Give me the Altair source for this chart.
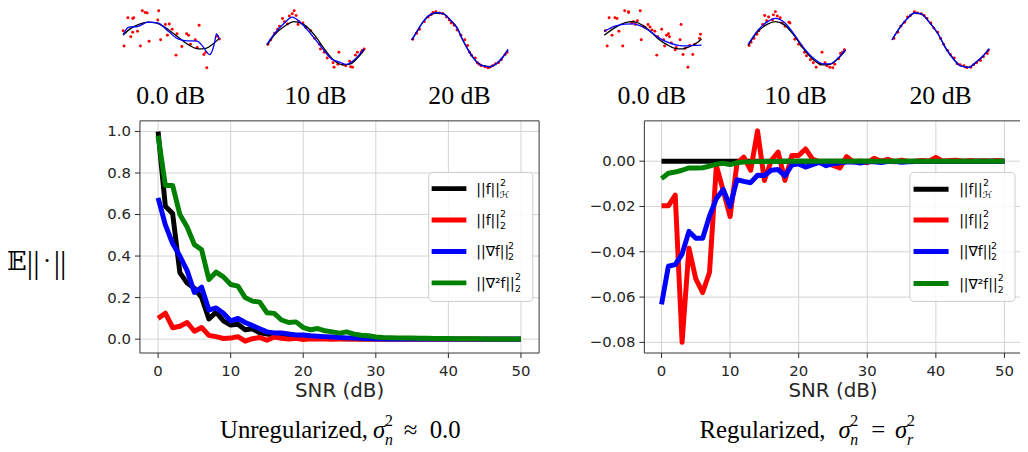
import altair as alt
import pandas as pd

# ------------------------------------------------------------------ data
snr_db = list(range(51))
snr_ticks = [0, 10, 20, 30, 40, 50]
snr_tick_labels = ["0", "10", "20", "30", "40", "50"]
unreg_ticks = [0.0, 0.2, 0.4, 0.6, 0.8, 1.0]
unreg_tick_labels = ["0.0", "0.2", "0.4", "0.6", "0.8", "1.0"]
reg_ticks = [-0.08, -0.06, -0.04, -0.02, 0.0]
reg_tick_labels = ["\u22120.08", "\u22120.06", "\u22120.04", "\u22120.02", "0.00"]
series_colors = ["#000000", "#ff0000", "#0000ff", "#008000"]
snr_levels = ["0.0 dB", "10 dB", "20 dB"]

# Unregularized, sigma_n^2 ~ 0
unreg_hnorm = [1.00, 0.64, 0.605, 0.32, 0.27, 0.245, 0.20, 0.097, 0.13, 0.088,
               0.068, 0.072, 0.045, 0.05, 0.03, 0.025, 0.02, 0.015, 0.012, 0.010,
               0.008, 0.006, 0.005, 0.004, 0.003, 0.003, 0.002, 0.002, 0.001, 0.001,
               0.001, 0.001, 0.0, 0.0, 0.0, 0.0, 0.0, 0.0, 0.0, 0.0,
               0.0, 0.0, 0.0, 0.0, 0.0, 0.0, 0.0, 0.0, 0.0, 0.0, 0.0]
unreg_l2 = [0.100, 0.125, 0.055, 0.062, 0.080, 0.038, 0.056, 0.018, 0.012, 0.003,
            0.005, 0.012, -0.010, 0.002, 0.008, -0.005, 0.010, 0.004, 0.000, 0.004,
            -0.002, 0.002, 0.000, 0.001, -0.001, 0.000, 0.001, 0.000, 0.000, 0.001,
            0.000, 0.000, 0.000, 0.000, 0.000, 0.000, 0.000, 0.000, 0.000, 0.000,
            0.000, 0.000, 0.000, 0.000, 0.000, 0.000, 0.000, 0.000, 0.000, 0.000, 0.000]
unreg_grad = [0.68, 0.55, 0.46, 0.40, 0.33, 0.225, 0.25, 0.14, 0.15, 0.125,
              0.088, 0.10, 0.08, 0.065, 0.05, 0.035, 0.03, 0.03, 0.025, 0.02,
              0.02, 0.016, 0.014, 0.012, 0.010, 0.008, 0.006, 0.005, 0.004, 0.003,
              0.002, 0.002, 0.001, 0.001, 0.001, 0.001, 0.0, 0.0, 0.0, 0.0,
              0.0, 0.0, 0.0, 0.0, 0.0, 0.0, 0.0, 0.0, 0.0, 0.0, 0.0]
unreg_lap = [0.98, 0.74, 0.74, 0.60, 0.54, 0.455, 0.43, 0.287, 0.323, 0.30,
             0.263, 0.255, 0.20, 0.183, 0.178, 0.127, 0.124, 0.092, 0.08, 0.083,
             0.056, 0.045, 0.051, 0.04, 0.035, 0.029, 0.035, 0.024, 0.019, 0.016,
             0.010, 0.008, 0.007, 0.006, 0.005, 0.005, 0.004, 0.004, 0.003, 0.003,
             0.003, 0.002, 0.002, 0.002, 0.002, 0.001, 0.001, 0.001, 0.001, 0.001, 0.001]

# Regularized, sigma_n^2 = sigma_r^2
reg_hnorm = [0.0, 0.0, 0.0, 0.0, 0.0, 0.0, 0.0, 0.0, 0.0, 0.0,
             0.0, 0.0, 0.0, 0.0, 0.0, 0.0, 0.0, 0.0, 0.0, 0.0,
             0.0, 0.0, 0.0, 0.0, 0.0, 0.0, 0.0, 0.0, 0.0, 0.0,
             0.0, 0.0, 0.0, 0.0, 0.0, 0.0, 0.0, 0.0, 0.0, 0.0,
             0.0, 0.0, 0.0, 0.0, 0.0, 0.0, 0.0, 0.0, 0.0, 0.0, 0.0]
reg_l2 = [-0.0197, -0.0197, -0.0150, -0.0800, -0.0384, -0.0520, -0.0580, -0.0490, -0.0020, -0.0130,
          -0.0245, -0.0010, 0.0018, -0.0040, 0.0134, -0.0085, 0.0003, 0.0040, -0.0085, 0.0025,
          0.0025, 0.0054, 0.0010, -0.0004, -0.0004, -0.0019, -0.0030, 0.0020, -0.0004, 0.0000,
          -0.0007, 0.0013, 0.0000, 0.0008, -0.0003, 0.0005, -0.0002, 0.0000, 0.0003, 0.0000,
          0.0017, 0.0000, 0.0003, 0.0004, 0.0000, 0.0003, 0.0000, 0.0002, 0.0000, 0.0003, 0.0000]
reg_grad = [-0.0632, -0.0464, -0.0457, -0.0410, -0.0310, -0.0340, -0.0340, -0.0242, -0.0165, -0.0125,
            -0.0200, -0.0082, -0.0089, -0.0095, -0.0062, -0.0063, -0.0040, -0.0037, -0.0065, -0.0017,
            -0.0012, -0.0026, -0.0015, -0.0005, -0.0020, -0.0012, -0.0007, -0.0004, -0.0003, -0.0008,
            -0.0002, -0.0003, -0.0006, -0.0002, -0.0001, -0.0005, -0.0003, -0.0002, -0.0001, -0.0002,
            -0.0001, -0.0002, -0.0001, -0.0001, -0.0002, -0.0001, 0.0000, -0.0001, 0.0000, -0.0001, 0.0000]
reg_lap = [-0.0077, -0.0053, -0.0048, -0.0040, -0.0030, -0.0030, -0.0029, -0.0022, -0.0013, -0.0009,
           -0.0015, -0.0007, -0.0004, -0.0003, -0.0002, -0.0001, -0.0001, -0.0001, 0.0, 0.0,
           0.0, 0.0, 0.0, 0.0, 0.0, 0.0, 0.0, 0.0, 0.0, 0.0,
           0.0, 0.0, 0.0, 0.0, 0.0, 0.0, 0.0, 0.0, 0.0, 0.0,
           0.0, 0.0, 0.0, 0.0, 0.0, 0.0, 0.0, 0.0, 0.0, 0.0, 0.0]

# ---- thumbnails: noisy samples (t, v), black curve, blue curve
u0_pts_t = [0.00, 0.05, 0.10, 0.11, 0.20, 0.23, 0.25, 0.37, 0.36, 0.44, 0.48, 0.51, 0.01, 0.08, 0.15, 0.18, 0.27,
            0.39, 0.46, 0.56, 0.61, 0.66, 0.68, 0.70, 0.75, 0.77, 0.79, 0.84, 0.86, 0.55, 0.87, 0.98, 1.00, 0.10]
u0_pts_v = [0.34, 0.82, 0.80, 0.82, 1.08, 1.02, 1.00, 1.08, 0.74, 0.57, 0.59, 0.40, -0.22, 0.12, 0.32, -0.22, -0.05,
            0.01, 0.18, 0.23, -0.24, 0.23, 0.18, -0.16, 0.01, -0.28, 0.55, -0.54, -0.45, -0.56, -1.03, 0.14, 0.04, 0.29]
u0_blk_t = [0.00, 0.08, 0.17, 0.26, 0.34, 0.43, 0.52, 0.60, 0.69, 0.78, 0.86, 0.93, 1.00]
u0_blk_v = [0.18, 0.43, 0.59, 0.66, 0.63, 0.48, 0.25, 0.03, -0.20, -0.33, -0.31, -0.16, 0.06]
u0_blu_t = [0.00, 0.06, 0.15, 0.26, 0.36, 0.47, 0.57, 0.66, 0.77, 0.82, 0.90, 0.95, 0.97, 1.00]
u0_blu_v = [0.20, 0.48, 0.50, 0.66, 0.63, 0.32, 0.04, -0.03, -0.04, -0.20, -0.54, -0.11, 0.23, 0.04]

u10_pts_t = [0.01, 0.04, 0.08, 0.11, 0.13, 0.16, 0.18, 0.23, 0.26, 0.28, 0.30, 0.33, 0.37, 0.40, 0.45, 0.49, 0.54, 0.55,
             0.59, 0.62, 0.68, 0.69, 0.73, 0.78, 0.81, 0.85, 0.86, 0.88, 0.91, 0.93, 0.97, 0.98, 1.00, 0.74, 0.32, 0.21]
u10_pts_v = [-0.16, 0.01, 0.25, 0.40, 0.51, 0.80, 0.68, 0.89, 0.97, 1.08, 0.91, 0.68, 0.63, 0.46, 0.34, 0.06, -0.16, -0.33,
             -0.45, -0.67, -0.84, -1.01, -0.90, -0.90, -0.95, -0.79, -0.99, -1.01, -0.56, -0.45, -0.45, -0.39, -0.33, -0.45, 0.57, 0.59]
u10_blk_t = [0.00, 0.075, 0.18, 0.28, 0.38, 0.49, 0.59, 0.69, 0.79, 0.86, 0.93, 1.00]
u10_blk_v = [-0.20, 0.18, 0.51, 0.68, 0.57, 0.18, -0.33, -0.76, -0.92, -0.88, -0.67, -0.36]
u10_blu_t = [0.00, 0.075, 0.18, 0.26, 0.35, 0.45, 0.55, 0.66, 0.74, 0.82, 0.88, 0.93, 1.00]
u10_blu_v = [-0.16, 0.23, 0.63, 0.85, 0.63, 0.23, -0.22, -0.69, -0.81, -0.90, -0.79, -0.62, -0.33]

u20_pts_t = [0.01, 0.05, 0.08, 0.13, 0.17, 0.20, 0.22, 0.25, 0.29, 0.32, 0.36, 0.39, 0.41, 0.44, 0.47, 0.51, 0.55,
             0.58, 0.60, 0.62, 0.66, 0.68, 0.70, 0.72, 0.76, 0.79, 0.81, 0.84, 0.87, 0.90, 0.93, 0.97, 0.99]
u20_pts_v = [0.03, 0.25, 0.40, 0.68, 0.85, 0.93, 1.02, 1.05, 1.00, 0.98, 0.85, 0.74, 0.63, 0.55, 0.37, 0.18, 0.01,
             -0.20, -0.45, -0.56, -0.67, -0.84, -0.90, -0.95, -0.99, -1.03, -1.01, -0.95, -0.88, -0.84, -0.73, -0.54, -0.45]
u20_blk_t = [0.00, 0.05, 0.12, 0.19, 0.26, 0.33, 0.40, 0.47, 0.53, 0.60, 0.67, 0.74, 0.81, 0.88, 0.95, 1.00]
u20_blk_v = [0.00, 0.29, 0.68, 0.93, 1.00, 0.97, 0.74, 0.46, 0.00, -0.45, -0.79, -0.95, -0.99, -0.88, -0.62, -0.36]
u20_blu_t = [0.00, 0.05, 0.12, 0.19, 0.26, 0.33, 0.40, 0.47, 0.53, 0.60, 0.67, 0.74, 0.81, 0.88, 0.95, 1.00]
u20_blu_v = [0.00, 0.30, 0.69, 0.94, 1.01, 0.97, 0.74, 0.45, -0.01, -0.46, -0.80, -0.96, -0.99, -0.87, -0.61, -0.35]

r0_pts_t = [0.01, 0.03, 0.05, 0.11, 0.13, 0.08, 0.15, 0.21, 0.25, 0.25, 0.30, 0.32, 0.34, 0.37, 0.38, 0.40, 0.42, 0.45,
            0.47, 0.49, 0.52, 0.54, 0.55, 0.59, 0.61, 0.62, 0.64, 0.66, 0.67, 0.69, 0.73, 0.74, 0.78, 0.79, 0.81, 0.83,
            0.86, 0.88, 0.91, 0.93, 0.98, 0.99, 0.19, 0.28]
r0_pts_v = [0.34, -0.22, 0.82, 0.82, 0.80, 0.18, 0.32, 1.08, 1.05, 1.02, 0.68, 0.57, 0.71, 1.08, 0.01, 0.51, 0.46, 0.57,
            0.48, 0.37, 0.32, -0.56, 0.12, 0.40, 0.01, -0.22, 0.18, 0.23, 0.12, -0.11, -0.36, -0.28, 0.01, 0.57, -0.54, -0.31,
            -1.01, -0.20, -0.54, -0.16, 0.06, 0.21, -0.22, 0.63]
r0_blk_t = [0.00, 0.11, 0.21, 0.28, 0.35, 0.45, 0.55, 0.64, 0.73, 0.79, 0.88, 0.95, 1.00]
r0_blk_v = [0.18, 0.46, 0.63, 0.68, 0.63, 0.40, 0.06, -0.16, -0.31, -0.33, -0.24, -0.11, 0.04]
r0_blu_t = [0.00, 0.11, 0.21, 0.30, 0.38, 0.47, 0.57, 0.67, 0.76, 0.85, 0.93, 1.00]
r0_blu_v = [0.32, 0.51, 0.59, 0.60, 0.51, 0.32, 0.06, -0.11, -0.20, -0.22, -0.20, -0.19]

r10_pts_t = [0.01, 0.03, 0.06, 0.09, 0.11, 0.15, 0.17, 0.19, 0.21, 0.25, 0.26, 0.28, 0.30, 0.33, 0.35, 0.38, 0.42, 0.43,
             0.48, 0.52, 0.55, 0.58, 0.60, 0.64, 0.67, 0.70, 0.74, 0.76, 0.79, 0.81, 0.84, 0.87, 0.89, 0.93, 0.95, 0.97, 0.99]
r10_pts_v = [-0.20, -0.08, 0.06, 0.21, 0.34, 0.57, 0.91, 0.71, 0.85, 0.74, 0.93, 1.05, 0.89, 0.82, 0.63, 0.51, 0.66, 0.63,
             0.03, -0.16, -0.22, -0.45, -0.58, -0.73, -0.84, -1.01, -0.90, -0.45, -0.84, -0.95, -1.01, -1.03, -0.90, -0.69,
             -0.50, -0.45, -0.36]
r10_blk_t = [0.00, 0.095, 0.20, 0.28, 0.37, 0.47, 0.57, 0.67, 0.77, 0.84, 0.93, 1.00]
r10_blk_v = [-0.20, 0.29, 0.59, 0.68, 0.57, 0.18, -0.33, -0.73, -0.92, -0.90, -0.67, -0.39]
r10_blu_t = [0.00, 0.095, 0.20, 0.28, 0.37, 0.47, 0.57, 0.67, 0.77, 0.84, 0.93, 1.00]
r10_blu_v = [-0.16, 0.34, 0.68, 0.80, 0.66, 0.23, -0.28, -0.67, -0.88, -0.88, -0.65, -0.36]

r20_pts_t = [0.02, 0.06, 0.09, 0.13, 0.16, 0.19, 0.23, 0.26, 0.30, 0.33, 0.36, 0.40, 0.43, 0.47, 0.50, 0.53, 0.57,
             0.60, 0.64, 0.67, 0.70, 0.74, 0.77, 0.81, 0.84, 0.87, 0.91, 0.94, 0.98, 0.99]
r20_pts_v = [0.06, 0.29, 0.51, 0.66, 0.85, 0.91, 1.05, 1.00, 0.97, 0.91, 0.80, 0.63, 0.44, 0.29, 0.06, -0.16, -0.39,
             -0.54, -0.67, -0.88, -0.92, -0.95, -1.03, -1.01, -0.92, -0.84, -0.76, -0.62, -0.50, -0.39]
r20_blk_t = [0.00, 0.07, 0.16, 0.23, 0.30, 0.38, 0.47, 0.55, 0.64, 0.70, 0.79, 0.86, 0.93, 1.00]
r20_blk_v = [0.00, 0.40, 0.80, 1.00, 0.97, 0.68, 0.25, -0.28, -0.73, -0.95, -1.01, -0.84, -0.62, -0.33]
r20_blu_t = [0.00, 0.07, 0.16, 0.23, 0.30, 0.38, 0.47, 0.55, 0.64, 0.70, 0.79, 0.86, 0.93, 1.00]
r20_blu_v = [0.00, 0.41, 0.81, 1.00, 0.97, 0.67, 0.24, -0.29, -0.74, -0.95, -1.01, -0.83, -0.61, -0.32]

# ------------------------------------------------------------------ layout / style
W, H = 1020, 444
SANS = "DejaVu Sans"
SERIF = "Liberation Serif"
AXC = "#262626"
GRID = "#d3d3d3"
SPINE = "#333333"
SNR_DOMAIN = [-2.5, 52.5]
THUMB_VDOM = [-1.12, 1.12]
THUMB_YPX = [61, 0]


def sc(domain, rng):
    return alt.Scale(domain=domain, range=rng, nice=False, zero=False)


def one_row():
    return pd.DataFrame({"k": [0]})


def txt(s, x, y, size, font=SERIF, align="left", style="normal", baseline="alphabetic", color="black"):
    return alt.Chart(pd.DataFrame({"s": [s]})).mark_text(
        align=align, baseline=baseline, font=font, fontSize=size, fontStyle=style, color=color
    ).encode(text="s:N", x=alt.value(x), y=alt.value(y))


def main_panel(series_vals, x_px, y_px, y_dom, y_ticks, y_labels):
    xs = sc(SNR_DOMAIN, x_px)
    ys = sc(y_dom, y_px)
    xdf = pd.DataFrame({"g": snr_ticks, "lab": snr_tick_labels})
    ydf = pd.DataFrame({"g": y_ticks, "lab": y_labels})
    # grid
    vgrid = alt.Chart(xdf).mark_rule(color=GRID, strokeWidth=1).encode(
        x=alt.X("g:Q", scale=xs, axis=None),
        y=alt.YDatum(y_dom[0], scale=ys, axis=None),
        y2=alt.Y2Datum(y_dom[1]))
    hgrid = alt.Chart(ydf).mark_rule(color=GRID, strokeWidth=1).encode(
        y=alt.Y("g:Q", scale=ys, axis=None),
        x=alt.XDatum(SNR_DOMAIN[0], scale=xs, axis=None),
        x2=alt.X2Datum(SNR_DOMAIN[1]))
    layers = [vgrid, hgrid]
    for vals, col in zip(series_vals, series_colors):
        df = pd.DataFrame({"snr": snr_db, "val": vals})
        layers.append(alt.Chart(df).mark_line(color=col, strokeWidth=5, strokeJoin="round").encode(
            x=alt.X("snr:Q", scale=xs, axis=None), y=alt.Y("val:Q", scale=ys, axis=None)))
    frame = alt.Chart(one_row()).mark_rect(fillOpacity=0, stroke=SPINE, strokeWidth=1).encode(
        x=alt.XDatum(SNR_DOMAIN[0], scale=xs, axis=None), x2=alt.X2Datum(SNR_DOMAIN[1]),
        y=alt.YDatum(y_dom[0], scale=ys, axis=None), y2=alt.Y2Datum(y_dom[1]))
    layers.append(frame)
    # x ticks and labels
    layers.append(alt.Chart(xdf).mark_rule(color=AXC, strokeWidth=1, y2Offset=5).encode(
        x=alt.X("g:Q", scale=xs, axis=None),
        y=alt.YDatum(y_dom[0], scale=ys, axis=None),
        y2=alt.Y2Datum(y_dom[0])))
    layers.append(alt.Chart(xdf).mark_text(font=SANS, fontSize=15, color=AXC, align="center",
                                           baseline="alphabetic", dy=23).encode(
        x=alt.X("g:Q", scale=xs, axis=None),
        y=alt.YDatum(y_dom[0], scale=ys, axis=None),
        text="lab:N"))
    # y ticks and labels
    layers.append(alt.Chart(ydf).mark_rule(color=AXC, strokeWidth=1, xOffset=-5).encode(
        y=alt.Y("g:Q", scale=ys, axis=None),
        x=alt.XDatum(SNR_DOMAIN[0], scale=xs, axis=None),
        x2=alt.X2Datum(SNR_DOMAIN[0])))
    layers.append(alt.Chart(ydf).mark_text(font=SANS, fontSize=15, color=AXC, align="right",
                                           baseline="middle", dx=-9).encode(
        y=alt.Y("g:Q", scale=ys, axis=None),
        x=alt.XDatum(SNR_DOMAIN[0], scale=xs, axis=None),
        text="lab:N"))
    return alt.layer(*layers)


def thumb(pt, pv, bt, bv, ut, uv, x_px):
    xs = sc([0, 1], x_px)
    ys = sc(THUMB_VDOM, THUMB_YPX)
    pts = alt.Chart(pd.DataFrame({"t": pt, "v": pv})).mark_circle(color="#ff0000", size=9, opacity=1).encode(
        x=alt.X("t:Q", scale=xs, axis=None), y=alt.Y("v:Q", scale=ys, axis=None))
    blk = alt.Chart(pd.DataFrame({"t": bt, "v": bv})).mark_line(color="#000000", strokeWidth=1.3,
                                                                 interpolate="monotone").encode(
        x=alt.X("t:Q", scale=xs, axis=None), y=alt.Y("v:Q", scale=ys, axis=None))
    blu = alt.Chart(pd.DataFrame({"t": ut, "v": uv})).mark_line(color="#0000ff", strokeWidth=1.3,
                                                                 interpolate="monotone").encode(
        x=alt.X("t:Q", scale=xs, axis=None), y=alt.Y("v:Q", scale=ys, axis=None))
    return alt.layer(pts, blk, blu)


def legend(box_x, box_y, rule_x, label_x, entry_y, script_dx):
    bases = ["||f||", "||f||", "||\u2207f||", "||\u2207\u00b2f||"]
    subs = ["\u210b", "2", "2", "2"]
    out = [alt.Chart(one_row()).mark_rect(fill="white", fillOpacity=0.85, stroke="#cccccc",
                                           strokeWidth=1, cornerRadius=4).encode(
        x=alt.value(box_x[0]), x2=alt.value(box_x[1]), y=alt.value(box_y[0]), y2=alt.value(box_y[1]))]
    for col, b, s, ey, dx in zip(series_colors, bases, subs, entry_y, script_dx):
        out.append(alt.Chart(one_row()).mark_rule(color=col, strokeWidth=5).encode(
            x=alt.value(rule_x[0]), x2=alt.value(rule_x[1]), y=alt.value(ey)))
        out.append(txt(b, label_x, ey + 5, 14, font=SANS))
        out.append(txt("2", label_x + dx, ey - 3, 9.5, font=SANS))
        out.append(txt(s, label_x + dx, ey + 9, 9.5, font=SANS, style="italic" if s != "2" else "normal"))
    return out


layers = []
# main panels
layers.append(main_panel([unreg_hnorm, unreg_l2, unreg_grad, unreg_lap], [133, 535.3], [346, 112],
                         [-0.0669, 1.051], unreg_ticks, unreg_tick_labels))
layers.append(main_panel([reg_hnorm, reg_l2, reg_grad, reg_lap], [641.4, 1021.6], [346, 112],
                         [-0.0847, 0.0178], reg_ticks, reg_tick_labels))
# axis titles
layers.append(txt("SNR (dB)", 334.2, 390, 20, font=SANS, align="center", color=AXC))
layers.append(txt("SNR (dB)", 831.5, 390, 20, font=SANS, align="center", color=AXC))
# legends
layers += legend([424, 529], [164, 294], [427, 462], 472, [180.3, 212, 243.7, 275.3], [24, 24, 32, 39])
layers += legend([909, 1015], [164, 294], [912.7, 948], 958.7, [181, 212, 243.7, 276], [24, 24, 32, 39])

# thumbnails
layers.append(thumb(u0_pts_t, u0_pts_v, u0_blk_t, u0_blk_v, u0_blu_t, u0_blu_v, [116, 213]))
layers.append(thumb(u10_pts_t, u10_pts_v, u10_blk_t, u10_blk_v, u10_blu_t, u10_blu_v, [261, 359]))
layers.append(thumb(u20_pts_t, u20_pts_v, u20_blk_t, u20_blk_v, u20_blu_t, u20_blu_v, [407, 504]))
layers.append(thumb(r0_pts_t, r0_pts_v, r0_blk_t, r0_blk_v, r0_blu_t, r0_blu_v, [601, 699]))
layers.append(thumb(r10_pts_t, r10_pts_v, r10_blk_t, r10_blk_v, r10_blu_t, r10_blu_v, [746, 844]))
layers.append(thumb(r20_pts_t, r20_pts_v, r20_blk_t, r20_blk_v, r20_blu_t, r20_blu_v, [891, 989]))

for lab, cx in zip(snr_levels, [164, 310, 455]):
    layers.append(txt(lab, cx, 95, 26, align="center"))
for lab, cx in zip(snr_levels, [649, 794, 940]):
    layers.append(txt(lab, cx, 95, 26, align="center"))

# y label  E||.||
layers.append(txt("\U0001D53C", -1, 262, 26, font="DejaVu Serif"))
layers.append(txt("||", 19, 265, 32))
layers.append(txt("\u00b7", 35, 261, 26))
layers.append(txt("||", 46, 265, 32))

# captions
layers.append(txt("Unregularized,", 213.7, 432, 25))
layers.append(txt("\u03c3", 368, 432, 25, style="italic"))
layers.append(txt("2", 380, 420, 16))
layers.append(txt("n", 380, 439, 16, style="italic"))
layers.append(txt("\u2248", 399, 432, 25))
layers.append(txt("0.0", 425, 432, 25))

layers.append(txt("Regularized,", 697, 432, 25))
layers.append(txt("\u03c3", 837, 432, 25, style="italic"))
layers.append(txt("2", 849, 420, 16))
layers.append(txt("n", 849, 439, 16, style="italic"))
layers.append(txt("=", 870, 432, 25))
layers.append(txt("\u03c3", 894, 432, 25, style="italic"))
layers.append(txt("2", 906, 420, 16))
layers.append(txt("r", 906, 439, 16, style="italic"))

chart = (
    alt.layer(*layers)
    .resolve_scale(x="independent", y="independent")
    .properties(width=W, height=H, autosize=alt.AutoSizeParams(type="none"), padding=0,
                background="white")
    .configure_view(strokeWidth=0)
)

chart.save("out.html", embed_options={"renderer": "svg", "actions": False})
